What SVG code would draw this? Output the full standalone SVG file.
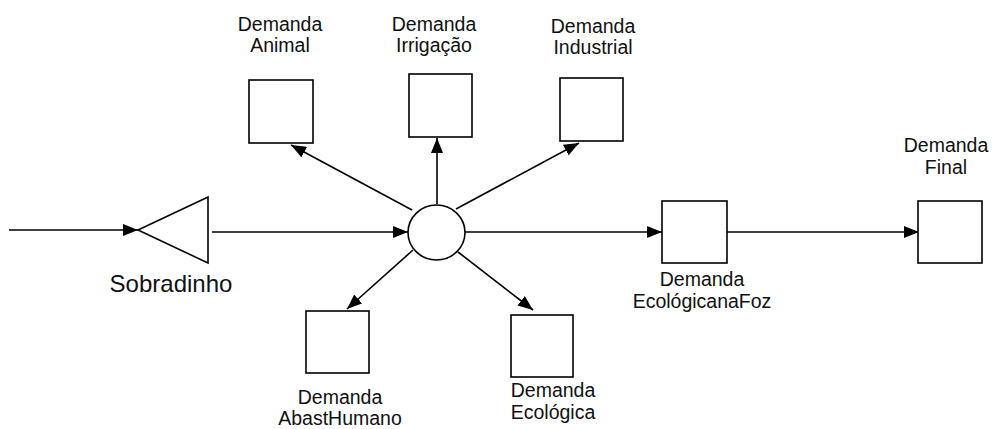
<svg xmlns="http://www.w3.org/2000/svg" width="993" height="429" viewBox="0 0 993 429">
<style>
.box{fill:#fff;stroke:#000;stroke-width:1.6}
.lbl{font-family:"Liberation Sans",Arial,sans-serif;font-size:19.5px;fill:#111;text-anchor:middle}
.big{font-size:24px}
.conn line{stroke:#000;stroke-width:1.6;marker-end:url(#ah)}
</style>
<defs>
<marker id="ah" markerUnits="userSpaceOnUse" markerWidth="15" markerHeight="12" refX="15" refY="6" orient="auto">
<path d="M0,0 L15,6 L0,12 z" fill="#000"/>
</marker>
</defs>
<g id="connectors" class="conn">
<line x1="9" y1="230" x2="138" y2="230"/>
<line x1="212" y1="232" x2="408" y2="232"/>
<line x1="412" y1="210" x2="291" y2="145"/>
<line x1="437" y1="204" x2="437" y2="138"/>
<line x1="456" y1="209" x2="579" y2="143"/>
<line x1="413" y1="250" x2="347" y2="309"/>
<line x1="458" y1="252" x2="533" y2="310"/>
<line x1="465" y1="232" x2="662" y2="232"/>
<line x1="727" y1="232" x2="919" y2="232"/>
</g>
<g id="sobradinho">
<polygon class="box" points="138,230 208,197 208,263"/>
<text class="lbl big" x="171" y="292">Sobradinho</text>
</g>
<g id="junction">
<ellipse class="box" cx="436.5" cy="232.5" rx="28.5" ry="27.5"/>
</g>
<g id="demanda-animal">
<rect class="box" x="249" y="80" width="64" height="63"/>
<text class="lbl" x="280" y="31">Demanda</text>
<text class="lbl" x="280" y="52">Animal</text>
</g>
<g id="demanda-irrigacao">
<rect class="box" x="409" y="74" width="63" height="63"/>
<text class="lbl" x="434" y="31">Demanda</text>
<text class="lbl" x="434" y="52">Irrigação</text>
</g>
<g id="demanda-industrial">
<rect class="box" x="560" y="78" width="63" height="63"/>
<text class="lbl" x="593" y="33">Demanda</text>
<text class="lbl" x="593" y="54">Industrial</text>
</g>
<g id="demanda-abasthumano">
<rect class="box" x="306" y="311" width="63" height="62"/>
<text class="lbl" x="340" y="404">Demanda</text>
<text class="lbl" x="340" y="425">AbastHumano</text>
</g>
<g id="demanda-ecologica">
<rect class="box" x="511" y="315" width="62" height="62"/>
<text class="lbl" x="553" y="397">Demanda</text>
<text class="lbl" x="553" y="419">Ecológica</text>
</g>
<g id="demanda-ecologicanafoz">
<rect class="box" x="662" y="201" width="65" height="62"/>
<text class="lbl" x="702" y="286">Demanda</text>
<text class="lbl" x="702" y="308">EcológicanaFoz</text>
</g>
<g id="demanda-final">
<rect class="box" x="918" y="201" width="64" height="62"/>
<text class="lbl" x="946" y="152">Demanda</text>
<text class="lbl" x="946" y="174">Final</text>
</g>
</svg>
